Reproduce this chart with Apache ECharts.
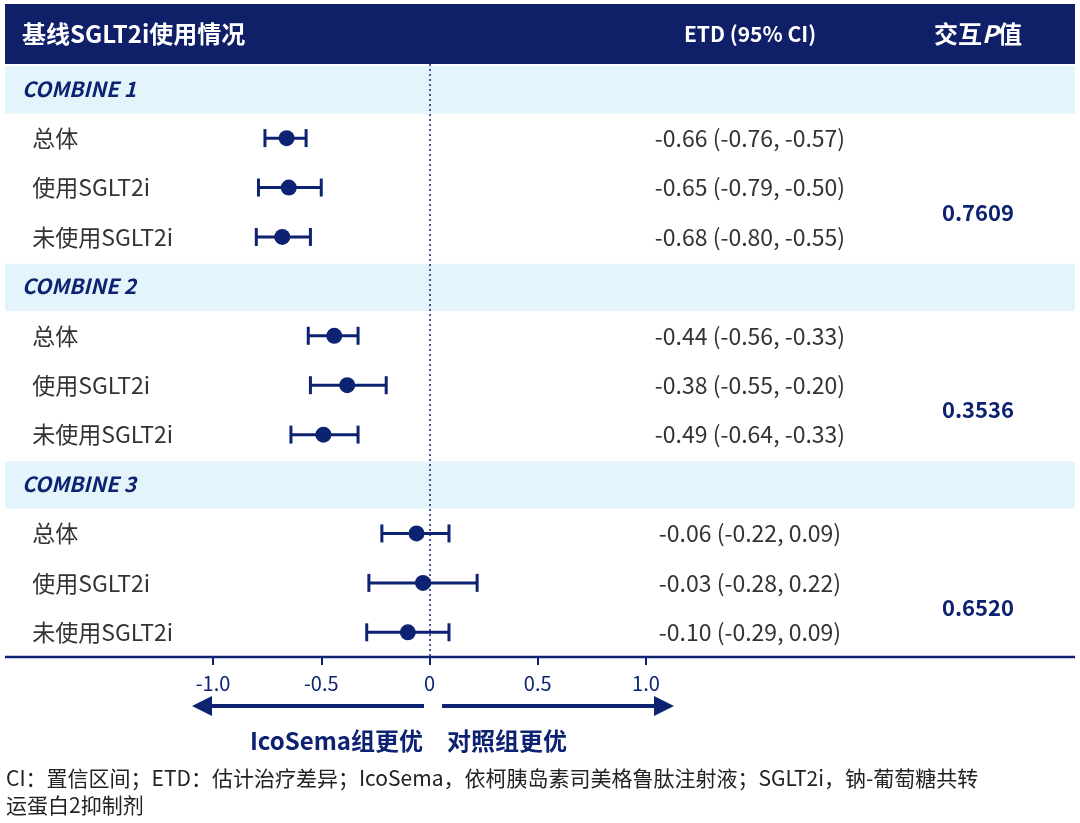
<!DOCTYPE html>
<html><head><meta charset="utf-8">
<script src="https://cdn.jsdelivr.net/npm/echarts@6/dist/echarts.min.js"></script>
<style>html,body{margin:0;padding:0;background:#fff}#main{width:1080px;height:823px}</style>
</head><body><div id="main"></div>
<script>
// rows: section headers have null values
const rowNames = ['COMBINE 1', '总体', '使用SGLT2i', '未使用SGLT2i', 'COMBINE 2', '总体', '使用SGLT2i', '未使用SGLT2i', 'COMBINE 3', '总体', '使用SGLT2i', '未使用SGLT2i'];
const isSection = [true, false, false, false, true, false, false, false, true, false, false, false];
const estimates = [null, -0.66, -0.65, -0.68, null, -0.44, -0.38, -0.49, null, -0.06, -0.03, -0.10];
const lower = [null, -0.76, -0.79, -0.80, null, -0.56, -0.55, -0.64, null, -0.22, -0.28, -0.29];
const upper = [null, -0.57, -0.50, -0.55, null, -0.33, -0.20, -0.33, null, 0.09, 0.22, 0.09];
const etdText = ['', '-0.66 (-0.76, -0.57)', '-0.65 (-0.79, -0.50)', '-0.68 (-0.80, -0.55)', '', '-0.44 (-0.56, -0.33)', '-0.38 (-0.55, -0.20)', '-0.49 (-0.64, -0.33)', '', '-0.06 (-0.22, 0.09)', '-0.03 (-0.28, 0.22)', '-0.10 (-0.29, 0.09)'];
// interaction p values, shown between 使用 and 未使用 rows of each group
const pValues = ['0.7609', '0.3536', '0.6520'];
const pRows = [2, 6, 10];

const navy = '#0d2270';
const font = '"Noto Sans CJK SC", "Open Sans", sans-serif';
const chart = echarts.init(document.getElementById('main'));

const idx = rowNames.map((_, i) => i);
const ciData = idx.filter(i => estimates[i] !== null).map(i => [i, lower[i], upper[i]]);
const ptData = idx.filter(i => estimates[i] !== null).map(i => [estimates[i], i]);

const yBase = {type: 'category', data: idx, inverse: true, axisLine: {show: false}, axisTick: {show: false}};

chart.setOption({
  animation: false,
  textStyle: {fontFamily: font},
  grid: {left: 213, right: 434, top: 64, bottom: 166},
  xAxis: {
    type: 'value', min: -1, max: 1, interval: 0.5,
    splitLine: {show: false}, axisLine: {show: false},
    axisTick: {show: true, length: 8, lineStyle: {color: navy, width: 2}},
    axisLabel: {margin: 16, color: navy, fontSize: 20, fontFamily: font,
      formatter: v => v === 0 ? '0' : v.toFixed(1)}
  },
  yAxis: [
    Object.assign({}, yBase, {position: 'left', axisLabel: {
      align: 'left', margin: 191, fontSize: 23, color: '#333',
      formatter: i => isSection[i] ? '{s|' + rowNames[i] + '}' : '  ' + rowNames[i],
      rich: {s: {fontWeight: 'bold', fontStyle: 'italic', color: navy, fontSize: 21}}
    }}),
    Object.assign({}, yBase, {position: 'right', axisLabel: {
      align: 'center', margin: 104, fontSize: 23, color: '#333', formatter: i => etdText[i]
    }})
  ],
  series: [
    {
      type: 'custom', data: ciData,
      encode: {x: [1, 2], y: 0},
      renderItem: (params, api) => {
        const y = api.coord([0, api.value(0)])[1];
        const x1 = api.coord([api.value(1), 0])[0];
        const x2 = api.coord([api.value(2), 0])[0];
        const st = {stroke: navy, lineWidth: 3};
        return {type: 'group', children: [
          {type: 'line', shape: {x1: x1, y1: y, x2: x2, y2: y}, style: st},
          {type: 'line', shape: {x1: x1, y1: y - 9, x2: x1, y2: y + 9}, style: st},
          {type: 'line', shape: {x1: x2, y1: y - 9, x2: x2, y2: y + 9}, style: st}
        ]};
      }
    },
    {
      type: 'scatter', data: ptData, symbolSize: 16, itemStyle: {color: navy, opacity: 1}, z: 3,
      markLine: {silent: true, symbol: 'none', label: {show: false},
        lineStyle: {color: navy, type: [2, 3], width: 1.5}, data: [{xAxis: 0}]}
    }
  ]
});

const gfx = [];
const py = i => chart.convertToPixel({yAxisIndex: 0}, i);
const rowH = py(1) - py(0);
idx.filter(i => isSection[i]).forEach(i => {
  gfx.push({type: 'rect', z: -10, shape: {x: 5, y: py(i) - rowH / 2 + 2, width: 1070, height: rowH - 2}, style: {fill: '#e3f4fb'}});
});
pValues.forEach((p, k) => {
  gfx.push({type: 'text', x: 978, y: (py(pRows[k]) + py(pRows[k] + 1)) / 2,
    style: {text: p, align: 'center', verticalAlign: 'middle', fill: navy, fontSize: 22, fontWeight: 'bold', fontFamily: font}});
});
gfx.push({type: 'rect', z: -10, shape: {x: 5, y: 4, width: 1070, height: 60}, style: {fill: '#0f1f68'}});
const hs = {fill: '#fff', fontSize: 24, fontWeight: 'bold', fontFamily: font};
gfx.push({type: 'text', x: 22, y: 34, style: Object.assign({text: '基线SGLT2i使用情况', verticalAlign: 'middle'}, hs)});
gfx.push({type: 'text', x: 750, y: 34, style: Object.assign({text: 'ETD (95% CI)', align: 'center', verticalAlign: 'middle'}, hs, {fontSize: 21})});
gfx.push({type: 'text', x: 978, y: 34, style: Object.assign({text: '交互{p|P}值', align: 'center', verticalAlign: 'middle',
  rich: {p: {fill: '#fff', fontSize: 24, fontWeight: 'bold', fontStyle: 'italic', fontFamily: font}}}, hs)});
// axis baseline
gfx.push({type: 'line', shape: {x1: 5, y1: 657, x2: 1075, y2: 657}, style: {stroke: navy, lineWidth: 2.5}});
// direction arrows
gfx.push({type: 'line', shape: {x1: 424, y1: 706, x2: 208, y2: 706}, style: {stroke: navy, lineWidth: 4}});
gfx.push({type: 'polygon', shape: {points: [[192, 706], [212, 696], [212, 716]]}, style: {fill: navy}});
gfx.push({type: 'line', shape: {x1: 442, y1: 706, x2: 658, y2: 706}, style: {stroke: navy, lineWidth: 4}});
gfx.push({type: 'polygon', shape: {points: [[674, 706], [654, 696], [654, 716]]}, style: {fill: navy}});
const ls = {fill: navy, fontSize: 24, fontWeight: 'bold', fontFamily: font, verticalAlign: 'middle'};
gfx.push({type: 'text', x: 423, y: 741, style: Object.assign({text: 'IcoSema组更优', align: 'right'}, ls)});
gfx.push({type: 'text', x: 447, y: 741, style: Object.assign({text: '对照组更优', align: 'left'}, ls)});
const fs = {fill: '#222', fontSize: 21, fontFamily: font, verticalAlign: 'middle'};
gfx.push({type: 'text', x: 6, y: 778, style: Object.assign({text: 'CI：置信区间；ETD：估计治疗差异；IcoSema，依柯胰岛素司美格鲁肽注射液；SGLT2i，钠-葡萄糖共转'}, fs)});
gfx.push({type: 'text', x: 6, y: 805, style: Object.assign({text: '运蛋白2抑制剂'}, fs)});
chart.setOption({graphic: gfx});
</script>
</body></html>
